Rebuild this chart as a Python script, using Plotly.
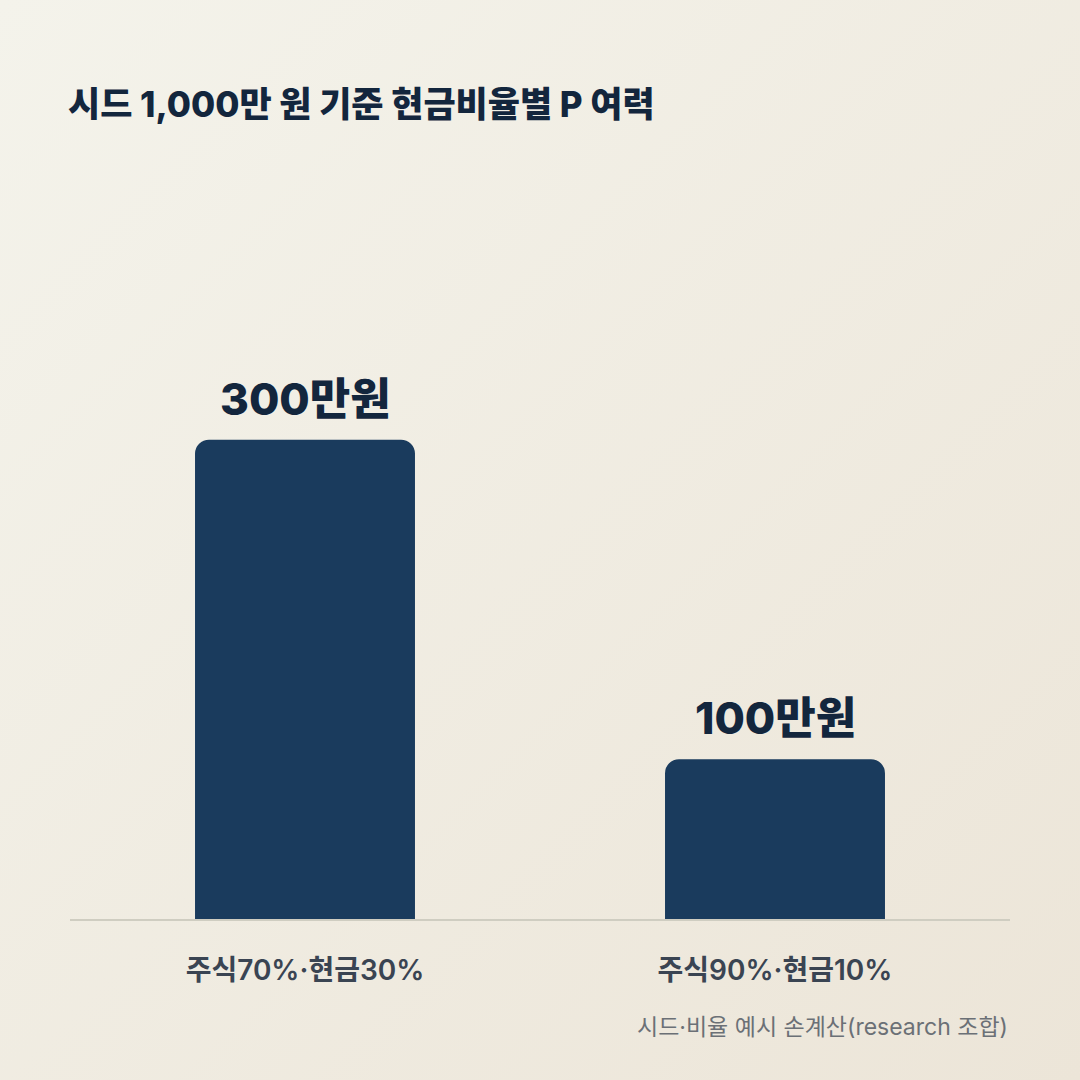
import plotly.graph_objects as go
import base64

# 데이터
categories = ["주식70%·현금30%", "주식90%·현금10%"]
values = [300, 100]
value_labels = ["300만원", "100만원"]

title_text = "시드 1,000만 원 기준 현금비율별 P 여력"
source_text = "시드·비율 예시 손계산(research 조합)"

FONT = "Inter, Noto Sans CJK KR, sans-serif"

# 배경 그라데이션 (svg)
svg = (
    '<svg xmlns="http://www.w3.org/2000/svg" width="1080" height="1080">'
    '<defs><linearGradient id="g" x1="0" y1="0" x2="1" y2="1">'
    '<stop offset="0" stop-color="#f4f3eb"/><stop offset="1" stop-color="#ece5d8"/>'
    '</linearGradient></defs><rect width="1080" height="1080" fill="url(#g)"/></svg>'
)
bg_src = "data:image/svg+xml;base64," + base64.b64encode(svg.encode()).decode()

fig = go.Figure()
fig.add_trace(go.Bar(
    x=categories,
    y=values,
    marker=dict(color="#1a3b5d", line=dict(width=0)),
    width=0.468,
    hoverinfo="skip",
))

# 값 라벨 (막대 위)
for c, v, t in zip(categories, values, value_labels):
    fig.add_annotation(
        x=c, y=v, text=t, xref="x", yref="y",
        showarrow=False, yanchor="bottom", yshift=12,
        font=dict(family=FONT, size=44, color="#13263d", weight=800),
    )

fig.update_layout(
    width=1080,
    height=1080,
    margin=dict(l=70, r=70, t=280, b=161),
    paper_bgcolor="#f1eee4",
    plot_bgcolor="rgba(0,0,0,0)",
    barcornerradius=14,
    showlegend=False,
    font=dict(family=FONT),
    title=dict(
        text=title_text,
        font=dict(family=FONT, size=35, color="#13263d", weight=800),
        xref="container", yref="container",
        x=68 / 1080, xanchor="left",
        y=1 - 105 / 1080, yanchor="middle",
    ),
    images=[dict(
        source=bg_src, xref="paper", yref="paper",
        x=-70 / 940, y=1 + 280 / 639, sizex=1080 / 940, sizey=1080 / 639,
        xanchor="left", yanchor="top", sizing="stretch", layer="below",
    )],
)
fig.add_annotation(
    text=source_text, xref="paper", yref="paper",
    x=1, y=(919 - 1027) / 639, xanchor="right", yanchor="middle",
    showarrow=False,
    font=dict(family=FONT, size=23, color="#6b7076"),
)

fig.update_xaxes(
    showline=True, linecolor="#cfcdc1", linewidth=1.5,
    ticks="outside", ticklen=26, tickcolor="rgba(0,0,0,0)",
    tickfont=dict(family=FONT, size=28, color="#3a4452", weight=600),
    showgrid=False, fixedrange=True,
)
fig.update_yaxes(
    range=[0, 400], visible=False, showgrid=False, zeroline=False, fixedrange=True,
)

fig.write_html("out.html", config={"displayModeBar": False},
               post_script="document.body.style.margin='0';")
